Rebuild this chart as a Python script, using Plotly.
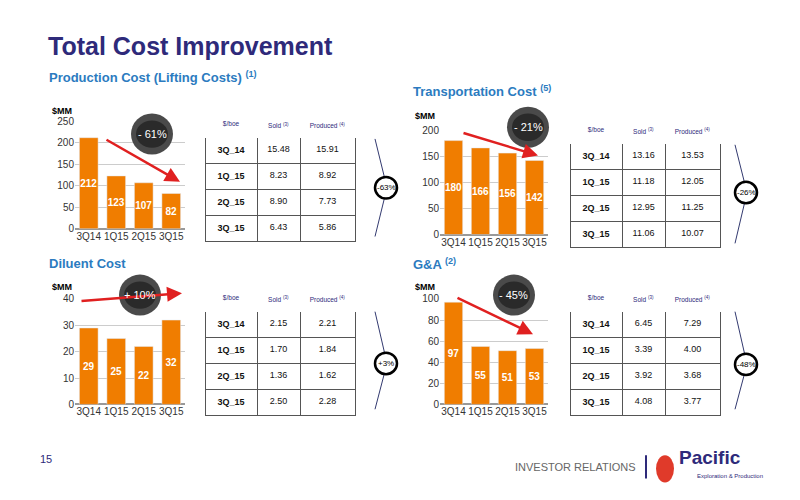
import plotly.graph_objects as go

quarters = ["3Q14", "1Q15", "2Q15", "3Q15"]
production = [212, 123, 107, 82]
transport = [180, 166, 156, 142]
diluent = [29, 25, 22, 32]
ga = [97, 55, 51, 53]

row_labels = ["3Q_14", "1Q_15", "2Q_15", "3Q_15"]
prod_sold = ["15.48", "8.23", "8.90", "6.43"]
prod_produced = ["15.91", "8.92", "7.73", "5.86"]
trans_sold = ["13.16", "11.18", "12.95", "11.06"]
trans_produced = ["13.53", "12.05", "11.25", "10.07"]
dil_sold = ["2.15", "1.70", "1.36", "2.50"]
dil_produced = ["2.21", "1.84", "1.62", "2.28"]
ga_sold = ["6.45", "3.39", "3.92", "4.08"]
ga_produced = ["7.29", "4.00", "3.68", "3.77"]

W, H = 800, 500
OFF = 8
def px(x): return (x - OFF) / W
def py(y): return 1 - (y - OFF) / H

ORANGE = "#f07d00"
BLUE = "#2b7bc0"
NAVY = "#2e2a7a"

fig = go.Figure()

charts = [
    (production, (75, 185), (118, 228), 250, 50, ""),
    (transport, (440, 548), (127, 234), 200, 50, "2"),
    (diluent, (75, 185), (300, 408), 40, 10, "3"),
    (ga, (440, 548), (300, 408), 100, 20, "4"),
]
for vals, (x0, x1), (y0, y1), ymax, dt, sfx in charts:
    fig.add_trace(go.Bar(x=quarters, y=vals, text=["<b>%d</b>" % v for v in vals],
                         textposition="inside", insidetextanchor="middle", textangle=0,
                         constraintext="none",
                         textfont=dict(color="white", size=10, family="Arial"),
                         marker_color=ORANGE, width=0.68,
                         xaxis="x" + sfx, yaxis="y" + sfx, showlegend=False))
    fig.update_layout(**{
        "xaxis" + sfx: dict(domain=[px(x0), px(x1)], anchor="y" + sfx, showgrid=False,
                            tickfont=dict(size=10, color="#333"), showline=False, ticks=""),
        "yaxis" + sfx: dict(domain=[py(y1), py(y0)], anchor="x" + sfx, range=[0, ymax],
                            dtick=dt, gridcolor="#cccccc", zeroline=True, zerolinecolor="#999",
                            tickfont=dict(size=10, color="#333"), ticks=""),
    })

tables = [
    (prod_sold, prod_produced, (205, 355), (110, 245)),
    (trans_sold, trans_produced, (570, 720), (116, 251)),
    (dil_sold, dil_produced, (205, 355), (288, 423)),
    (ga_sold, ga_produced, (570, 720), (288, 423)),
]
for sold, prod, (x0, x1), (y0, y1) in tables:
    fig.add_trace(go.Table(
        domain=dict(x=[px(x0), px(x1)], y=[py(y1), py(y0)]),
        columnwidth=[52, 43, 55],
        header=dict(values=["$/boe", "Sold <sup>(3)</sup>", "Produced&nbsp;<sup>(4)</sup>"],
                    fill_color="white", line_color="white", height=22,
                    font=dict(size=6.5, color=NAVY), align="center"),
        cells=dict(values=[["<b>%s</b>" % r for r in row_labels], sold, prod],
                   fill_color="white", line=dict(color="#555", width=1), height=25.5,
                   font=dict(size=9, color="#111"), align="center"),
    ))

shapes, ann = [], []
for (bx, ytop, ymid, ybot, label) in [(375, 136, 186, 236, "-63%"), (735, 142, 191, 243, "-26%"),
                                     (375, 313, 366, 413, "+3%"), (735, 313, 367, 413, "-48%")]:
    shapes.append(dict(type="path", xref="paper", yref="paper",
                       path="M %f %f L %f %f L %f %f" % (px(bx), py(ytop), px(bx + 12), py(ymid), px(bx), py(ybot)),
                       line=dict(color="#333a70", width=1)))
    shapes.append(dict(type="circle", xref="paper", yref="paper",
                       x0=px(bx), x1=px(bx + 22), y0=py(ymid + 11), y1=py(ymid - 11),
                       line=dict(color="black", width=2.5), fillcolor="white"))
    ann.append(dict(x=px(bx + 11), y=py(ymid), xref="paper", yref="paper", text=label,
                    showarrow=False, xanchor="center", yanchor="middle",
                    font=dict(size=8, color="black")))

for (xa, ya, xb, yb) in [(105, 137, 180, 180), (462, 130, 538, 153), (80, 302, 182, 294), (456, 299, 533, 336)]:
    ann.append(dict(x=px(xb), y=py(yb), ax=xa - xb, ay=ya - yb, xref="paper", yref="paper",
                    axref="pixel", ayref="pixel", showarrow=True, arrowhead=2, arrowsize=1.2,
                    arrowwidth=2.5, arrowcolor="#e02020", text=""))

for (cx, cy, label) in [(152, 131, "- 61%"), (528, 124, "- 21%"), (140, 296, "+ 10%"), (514, 296, "- 45%")]:
    r = 19
    shapes.append(dict(type="circle", xref="paper", yref="paper",
                       x0=px(cx - r - 2), x1=px(cx + r + 2), y0=py(cy + r + 2), y1=py(cy - r - 2),
                       line=dict(width=0), fillcolor="#4a4a4a"))
    shapes.append(dict(type="circle", xref="paper", yref="paper",
                       x0=px(cx - r + 3), x1=px(cx + r - 3), y0=py(cy + r - 5), y1=py(cy - r + 5),
                       line=dict(width=0), fillcolor="#2a2a2a"))
    ann.append(dict(x=px(cx), y=py(cy), xref="paper", yref="paper", text=label, showarrow=False,
                    xanchor="center", yanchor="middle", font=dict(size=11, color="white", family="Arial")))

def txt(x, y, t, size, color, bold=False, anchor="left"):
    ann.append(dict(x=px(x), y=py(y), xref="paper", yref="paper", text=("<b>%s</b>" % t) if bold else t,
                    showarrow=False, xanchor=anchor, yanchor="middle",
                    font=dict(size=size, color=color, family="Arial")))

txt(46, 41, "Total Cost Improvement", 25, NAVY, True)
txt(47, 73, "Production Cost (Lifting Costs) <sup>(1)</sup>", 13, BLUE, True)
txt(411, 87, "Transportation Cost <sup>(5)</sup>", 13, BLUE, True)
txt(47, 264, "Diluent Cost", 13, BLUE, True)
txt(411, 264, "G&A <sup>(2)</sup>", 13, BLUE, True)
txt(50, 107, "$MM", 9, "black", True)
txt(413, 113, "$MM", 9, "black", True)
txt(50, 288, "$MM", 9, "black", True)
txt(413, 288, "$MM", 9, "black", True)
txt(38, 464, "15", 11, NAVY)
txt(638, 472, "INVESTOR RELATIONS", 11, "#666", anchor="right")
shapes.append(dict(type="line", xref="paper", yref="paper", x0=px(646), x1=px(646), y0=py(460), y1=py(484),
                   line=dict(color=NAVY, width=2)))
shapes.append(dict(type="circle", xref="paper", yref="paper", x0=px(656), x1=px(674), y0=py(488), y1=py(460),
                   line=dict(width=0), fillcolor="#e03a2a"))
txt(677, 462, "Pacific", 19, NAVY, True)
txt(695, 481, "Exploration & Production", 6, NAVY)

fig.update_layout(width=W, height=H, margin=dict(l=0, r=0, t=0, b=0),
                  paper_bgcolor="white", plot_bgcolor="white",
                  shapes=shapes, annotations=ann, bargap=0.3,
                  font=dict(family="Arial, Liberation Sans"))
fig.write_html("out.html")
